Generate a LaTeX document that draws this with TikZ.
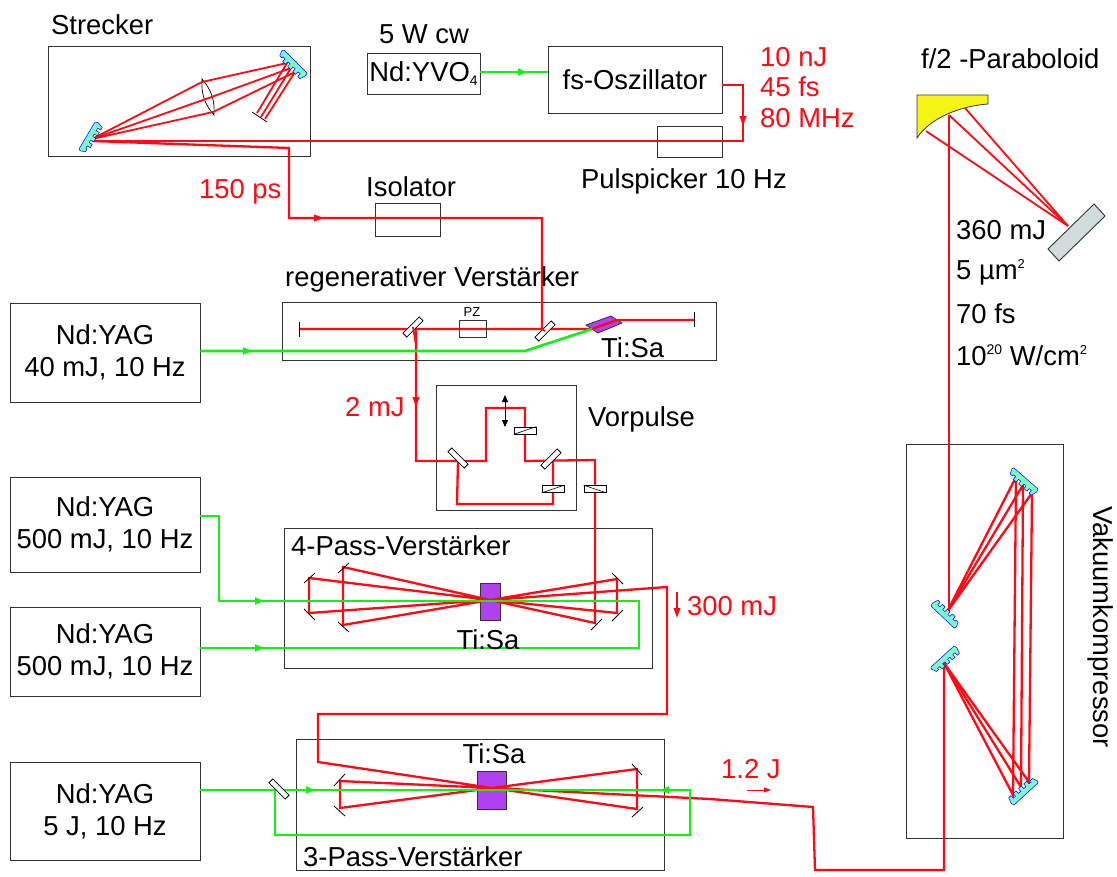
\documentclass[tikz,border=0pt]{standalone}
\usepackage{fontspec}
\setmainfont{Liberation Sans}
\usetikzlibrary{arrows.meta,calc}
\definecolor{rb}{HTML}{FF0A14}
\definecolor{gb}{HTML}{14F014}
\definecolor{tisa}{HTML}{B040F0}
\definecolor{grat}{HTML}{7CFCC8}
\definecolor{boxc}{HTML}{333333}
\definecolor{parab}{HTML}{F5F514}
\definecolor{gmir}{HTML}{D2DCDC}
\newcommand\grating[4]{%
  \pgfmathsetmacro\gdx{(#3-#1)}\pgfmathsetmacro\gdy{(#2-#4)}%
  \pgfmathsetmacro\glen{veclen(\gdx,\gdy)}%
  \pgfmathsetmacro\gax{\gdx/32}\pgfmathsetmacro\gay{\gdy/32}%
  \pgfmathsetmacro\gnx{-\gdy/\glen}\pgfmathsetmacro\gny{\gdx/\glen}%
  \begin{scope}[shift={(#1,#2)},x={(\gax pt,\gay pt)},y={(\gnx pt,\gny pt)}]
    \draw[draw=blue,fill=grat,line width=.5pt,line join=round]
      (0,0)--(32,0)--(33,2)--(31,7)--(28,7)--(28,5.5)--(25,5.5)--(25,9)--(21,9)--(21,5.5)--(18,5.5)--(18,9)
      --(14,9)--(14,5.5)--(11,5.5)--(11,9)--(7,9)--(7,5.5)--(4,5.5)--(4,9)--(1,9)--(-1,3)--cycle;
  \end{scope}}
\tikzset{
  x=1pt,y=-1pt,
  every node/.style={font=\fontsize{27.4}{32}\selectfont,inner sep=0pt},
  bx/.style={draw=boxc,line width=.9pt,rectangle,align=center},
  rbeam/.style={draw=rb,line width=2.3pt,line join=miter},
  rthin/.style={draw=rb,line width=1.8pt,line join=miter},
  gbeam/.style={draw=gb,line width=2.6pt,line join=miter},
  mir/.style={draw=black,line width=.8pt},
  bs/.style={draw=black,fill=white,line width=.8pt,minimum width=23pt,minimum height=5.5pt,rectangle},
  wp/.style={draw=black,fill=white,line width=.7pt,minimum width=22pt,minimum height=7pt,rectangle},
  rtip/.style={-{Triangle[length=10pt,width=6.5pt]},draw=rb,line width=1.9pt},
  gtip/.style={-{Triangle[length=9pt,width=7pt]},draw=gb,line width=2pt},
  rtxt/.style={text=rb,anchor=west},
  ktxt/.style={text=black,anchor=west},
  xtal/.style={draw=boxc,fill=tisa,line width=.8pt},
}
\begin{document}
\begin{tikzpicture}
\useasboundingbox (0,0) rectangle (1117,876);
\fill[white] (0,0) rectangle (1117,876);

% boxes
\node[bx,minimum width=262pt,minimum height=110pt] (strecker) at (179,101) {};
\node[bx,minimum width=113pt,minimum height=41pt] (yvo) at (423.5,73.5) {Nd:YVO\raisebox{-.3ex}{\fontsize{14}{14}\selectfont 4}};
\node[bx,minimum width=174pt,minimum height=67pt] (osc) at (635,79.5) {fs-Oszillator};
\node[bx,minimum width=65pt,minimum height=31pt] (picker) at (689.5,141.5) {};
\node[bx,minimum width=65pt,minimum height=33pt] (iso) at (407.5,219.5) {};
\node[bx,minimum width=434pt,minimum height=58pt] (regen) at (499,331) {};
\node[bx,minimum width=190pt,minimum height=99pt] (yag1) at (105,352.5) {Nd:YAG\\40 mJ, 10 Hz};
\node[bx,minimum width=140pt,minimum height=125pt] (vor) at (506,447.5) {};
\node[bx,minimum width=190pt,minimum height=95pt] (yag2) at (105,524.5) {Nd:YAG\\500 mJ, 10 Hz};
\node[bx,minimum width=190pt,minimum height=89pt] (yag3) at (105,651.5) {Nd:YAG\\500 mJ, 10 Hz};
\node[bx,minimum width=368pt,minimum height=140pt] (four) at (468,598) {};
\node[bx,minimum width=190pt,minimum height=98pt] (yag4) at (105,811) {Nd:YAG\\5 J, 10 Hz};
\node[bx,minimum width=368pt,minimum height=131pt] (three) at (480,804.5) {};
\node[bx,minimum width=157pt,minimum height=394pt] (vak) at (984.5,641) {};

% crystals and lens
\draw[xtal] (586,325)--(611,316)--(622,323)--(598,333)--cycle;
\draw[xtal] (480,583) rectangle (500,620);
\draw[xtal] (477,771) rectangle (506,809);
\draw[black,line width=.7pt] (202,79) to[bend left=22] (214,115) to[bend left=22] cycle;

% --- red beams
% oscillator to stretcher
\draw[rbeam] (osc.east |- 0,85)--(743,85)--(743,141)--(92,141);
\draw[rtip] (743,105)--(743,126);
% stretcher internals
\draw[rthin] (92,139)--(202,82)--(287,63)--(257,113);
\draw[rthin] (92,139)--(206,99)--(291,68)--(261,117);
\draw[rthin] (92,139)--(213,112)--(295,72)--(265,119);
% stretcher to isolator and regen
\draw[rbeam] (92,141)--(289,148)--(289,218)--(542,218)--(542,329);
\draw[rtip] (295,218)--(324,218);
% regen cavity
\draw[rbeam] (299,329)--(592,329)--(617,320)--(694,320);
% 2 mJ, Vorpulse, amplifiers, compressor input
\draw[rbeam] (416,329)--(416,461)--(486,461)--(486,408)--(525,408)--(525,461)--(595,460)--(595,623)--(490,600)--(343,567)--(343,625)--(490,600)--(617,579)--(617,613)--(490,600)--(309,613)--(309,578)--(490,600)--(667,587)--(667,714)--(318,714)--(318,762)--(492,788)--(637,809)--(637,769)--(492,788)--(340,808)--(340,781)--(492,788)--(710,799)--(813,807)--(815,870)--(944,870)--(944,663);
\draw[rtip] (416,390)--(416,407);
\draw[rbeam] (458,461)--(457,504)--(553,504)--(553,462);
% vacuum compressor
\draw[rbeam] (944,663)--(1013,795)--(1016,477)--(947,612);
\draw[rbeam] (944,663)--(1021,787)--(1023,485)--(947,612);
\draw[rbeam] (944,663)--(1029,782)--(1032,493)--(947,612);
\draw[rbeam] (949,612)--(949,115);
% parabola focus
\draw[rthin] (949,115)--(1068,226)--(965,108);
\draw[rthin] (1068,226)--(926,131);
% markers
\draw[rtip] (677,592)--(677,618);
\draw[-{Triangle[length=7pt,width=5pt]},draw=rb,line width=1pt] (747,790)--(771,790);

% --- green beams
\draw[gbeam] (yvo.east |- 0,72)--(osc.west |- 0,72);
\draw[gtip] (500,72)--(527,72);
\draw[gbeam] (yag1.east |- 0,351)--(525,351)--(592,329);
\draw[gtip] (225,351)--(252,351);
\draw[gbeam] (yag2.east |- 0,516)--(219,516)--(219,601)--(639,601)--(639,648)--(yag3.east |- 0,648);
\draw[gtip] (240,601)--(264,601);
\draw[gtip] (240,648)--(264,648);
\draw[gbeam] (yag4.east |- 0,790)--(690,790)--(690,835)--(275,835)--(275,790);
\draw[gtip] (295,790)--(315,790);
\draw[gtip] (680,790)--(660,790);

% beam splitters
\node[bs,rotate=45] (bs1) at (413,327) {};
\node[bs,rotate=45] (bs2) at (545,331) {};
\node[bs,rotate=-45] (bs3) at (458,458) {};
\node[bs,rotate=45] (bs4) at (551,459) {};
\node[bs,rotate=-45] (bs5) at (279,789) {};
\draw[rthin] (bs1.center)--(416,345);
\draw[rthin] (542,329)--(bs2.center);

% waveplates
\node[wp] (w1) at (525,430.5) {};
\node[wp] (w2) at (553,489) {};
\node[wp] (w3) at (595,489) {};
\draw[black,line width=.6pt] (w1.south west)--(w1.north east);
\draw[black,line width=.6pt] (w2.south west)--(w2.north east);
\draw[black,line width=.6pt] (w3.north west)--(w3.south east);
\node[bx,draw=none] (pzl) at (472,312) {\fontsize{13}{13}\selectfont PZ};
\node[draw=boxc,line width=.8pt,minimum width=27pt,minimum height=17pt] (pz) at (472.5,328.5) {};
\draw[{Triangle[length=7pt,width=6pt]}-{Triangle[length=7pt,width=6pt]},line width=.8pt] (505,395)--(505,427);

% end mirrors
\draw[mir] (299,322)--(299,337);
\draw[mir] (694,312)--(694,327);
\draw[mir] (252,112)--(267,122);
\foreach \a/\b/\c/\d in {304/583/315/573,338/573/349/563,304/609/315/620,338/622/349/632,612/573/623/584,612/621/623/610,591/630/602/619,334/786/345/774,334/806/345/816,632/764/642/775,632/817/643/807}
  \draw[mir] (\a,\b)--(\c,\d);

% gratings
\grating{95}{122}{79}{149}
\grating{307}{73}{284}{50}
\grating{1038}{489}{1014}{468}
\grating{931}{606}{954}{628}
\grating{954}{646}{931}{667}
\grating{1014}{805}{1038}{783}

% paraboloid and mirror
\draw[draw=boxc,fill=parab,line width=.8pt] (917,95)--(988,95)--(988,104) .. controls (960,106) and (930,118) .. (917,138)--cycle;
\draw[rthin] (949,115)--(949,140);
\draw[draw=boxc,fill=gmir,line width=.9pt] (1094,204)--(1105,216)--(1059,261)--(1048,249)--cycle;

% labels
\node[ktxt] (t1) at (51,25) {Strecker};
\node (t2) at (424,34) {5 W cw};
\node[rtxt] (t3) at (760,57) {10 nJ};
\node[rtxt] (t4) at (760,87) {45 fs};
\node[rtxt] (t5) at (760,118) {80 MHz};
\node[ktxt] (t6) at (581,181) {Pulspicker 10 Hz};
\node[rtxt] (t7) at (199,192) {150 ps};
\node[ktxt] (t8) at (366,187) {Isolator};
\node[ktxt] (t9) at (285,279) {regenerativer Verstärker};
\node[ktxt] (t10) at (601,348) {Ti:Sa};
\node[rtxt] (t11) at (345,407) {2 mJ};
\node[ktxt] (t12) at (588,419) {Vorpulse};
\node[ktxt] (t13) at (291,546) {4-Pass-Verstärker};
\node (t14) at (488,640) {Ti:Sa};
\node[rtxt] (t15) at (687,606) {300 mJ};
\node (t16) at (494,754) {Ti:Sa};
\node[rtxt] (t17) at (721,769) {1.2 J};
\node[ktxt] (t18) at (303,857) {3-Pass-Verstärker};
\node[ktxt] (t19) at (921,59) {f/2 -Paraboloid};
\node[ktxt] (t20) at (956,230) {360 mJ};
\node[ktxt] (t21) at (956,272) {5 µm\raisebox{.75ex}{\fontsize{13}{13}\selectfont 2}};
\node[ktxt] (t22) at (956,314) {70 fs};
\node[ktxt] (t23) at (956,355) {10\raisebox{.75ex}{\fontsize{14}{14}\selectfont 20} W/cm\raisebox{.75ex}{\fontsize{13}{13}\selectfont 2}};
\node[rotate=-90] (t24) at (1101,627) {Vakuumkompressor};
\end{tikzpicture}
\end{document}
